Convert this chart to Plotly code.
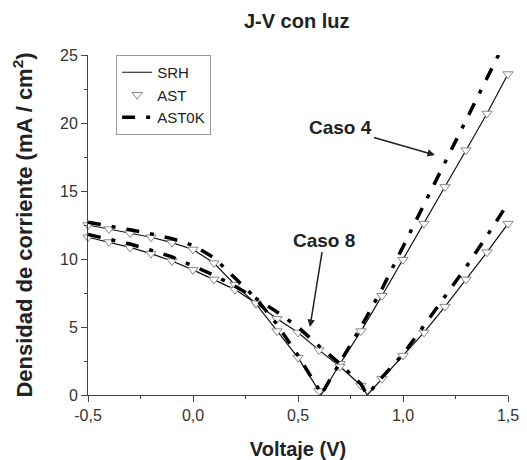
import plotly.graph_objects as go

# ---- data ----
# Curve with Voc ~ 0.61 V (Caso 4)
V_c4 = [-0.5, -0.4, -0.3, -0.2, -0.1, 0.0, 0.1, 0.2, 0.3, 0.4, 0.5,
        0.6, 0.61, 0.7, 0.8, 0.9, 1.0, 1.1, 1.2, 1.3, 1.4, 1.5]
J_c4_srh = [12.5, 12.2, 11.9, 11.6, 11.2, 10.7, 9.7, 8.1, 6.7, 4.7, 2.75,
            0.3, 0.0, 2.3, 4.7, 7.3, 9.95, 12.6, 15.3, 18.0, 20.7, 23.6]
J_c4_ast0k = [12.7, 12.45, 12.15, 11.85, 11.5, 11.0, 10.1, 8.6, 7.1, 5.2, 2.9,
              0.4, 0.0, 2.4, 5.0, 7.8, 10.9, 14.0, 17.1, 20.2, 23.3, 26.4]
V_c4_ast = [-0.5, -0.4, -0.3, -0.2, -0.1, 0.0, 0.1, 0.2, 0.3, 0.4, 0.5,
            0.6, 0.7, 0.8, 0.9, 1.0, 1.1, 1.2, 1.3, 1.4, 1.5]
J_c4_ast = [12.5, 12.2, 11.9, 11.6, 11.2, 10.7, 9.7, 8.1, 6.7, 4.7, 2.75,
            0.3, 2.3, 4.7, 7.3, 9.95, 12.6, 15.3, 18.0, 20.7, 23.6]

# Curve with Voc ~ 0.83 V (Caso 8)
V_c8 = [-0.5, -0.4, -0.3, -0.2, -0.1, 0.0, 0.1, 0.2, 0.3, 0.4, 0.5,
        0.6, 0.7, 0.8, 0.83, 0.9, 1.0, 1.1, 1.2, 1.3, 1.4, 1.5]
J_c8_srh = [11.6, 11.25, 10.85, 10.4, 9.85, 9.2, 8.5, 7.75, 6.75, 5.6, 4.6,
            3.3, 2.1, 0.7, 0.0, 1.2, 2.9, 4.6, 6.5, 8.5, 10.5, 12.6]
J_c8_ast0k = [11.8, 11.45, 11.1, 10.65, 10.15, 9.5, 8.8, 8.0, 7.1, 6.1, 5.0,
              3.6, 2.3, 0.8, 0.0, 1.3, 3.0, 5.1, 7.2, 9.4, 11.7, 14.1]
V_c8_ast = [-0.5, -0.4, -0.3, -0.2, -0.1, 0.0, 0.1, 0.2, 0.3, 0.4, 0.5,
            0.6, 0.7, 0.8, 0.9, 1.0, 1.1, 1.2, 1.3, 1.4, 1.5]
J_c8_ast = [11.6, 11.25, 10.85, 10.4, 9.85, 9.2, 8.5, 7.75, 6.75, 5.6, 4.6,
            3.3, 2.1, 0.7, 1.2, 2.9, 4.6, 6.5, 8.5, 10.5, 12.6]

x_tickvals = [-0.5, 0.0, 0.5, 1.0, 1.5]
x_ticktext = ["-0,5", "0,0", "0,5", "1,0", "1,5"]
y_tickvals = [0, 5, 10, 15, 20, 25]
y_ticktext = ["0", "5", "10", "15", "20", "25"]

FONT = "Liberation Sans, Arial, sans-serif"

fig = go.Figure()

# SRH solid lines
srh_line = dict(color="#111", width=1.2)
fig.add_trace(go.Scatter(x=V_c4, y=J_c4_srh, mode="lines", name="SRH",
                         line=srh_line))
fig.add_trace(go.Scatter(x=V_c8, y=J_c8_srh, mode="lines", name="SRH",
                         line=srh_line, showlegend=False))

# AST markers
mk = dict(symbol="triangle-down", size=9, color="white",
          line=dict(color="#888", width=1))
fig.add_trace(go.Scatter(x=V_c4_ast, y=J_c4_ast, mode="markers", name="AST",
                         marker=mk, cliponaxis=False))
fig.add_trace(go.Scatter(x=V_c8_ast, y=J_c8_ast, mode="markers", name="AST",
                         marker=mk, showlegend=False, cliponaxis=False))

# AST0K dashed lines
dl = dict(color="#000", width=3.5, dash="13px,11px,4px,11px")
fig.add_trace(go.Scatter(x=V_c4, y=J_c4_ast0k, mode="lines", name="AST0K",
                         line=dl))
fig.add_trace(go.Scatter(x=V_c8, y=J_c8_ast0k, mode="lines", name="AST0K",
                         line=dl, showlegend=False))

axis_common = dict(showline=True, linecolor="#444", linewidth=1,
                   showgrid=False, zeroline=False, ticks="outside",
                   ticklen=6, tickcolor="#444", automargin=False,
                   tickfont=dict(family=FONT, size=16, color="#333"))

fig.update_xaxes(range=[-0.5, 1.5], tickvals=x_tickvals, ticktext=x_ticktext,
                 minor=dict(dtick=0.25, ticks="outside", ticklen=3,
                            tickcolor="#444", showgrid=False),
                 title=dict(text="<b>Voltaje (V)</b>", standoff=20,
                            font=dict(family=FONT, size=20, color="#222")),
                 **axis_common)
fig.update_yaxes(range=[0, 25], tickvals=y_tickvals, ticktext=y_ticktext,
                 minor=dict(dtick=2.5, ticks="outside", ticklen=3,
                            tickcolor="#444", showgrid=False),
                 title=dict(text="<b>Densidad de corriente (mA / cm<sup>2</sup>)</b>",
                            standoff=21,
                            font=dict(family=FONT, size=22, color="#222")),
                 **axis_common)

ann_font = dict(family=FONT, size=19, color="#222")
fig.add_annotation(x=1.152, y=17.65, xref="x", yref="y", text="<b>Caso 4</b>",
                   showarrow=True, arrowhead=2, arrowsize=1, arrowwidth=1.5,
                   arrowcolor="#222", ax=-94, ay=-27, font=ann_font)
fig.add_annotation(x=0.557, y=5.0, xref="x", yref="y", text="<b>Caso 8</b>",
                   showarrow=True, arrowhead=2, arrowsize=1, arrowwidth=1.5,
                   arrowcolor="#222", ax=14, ay=-87, font=ann_font)

fig.update_layout(
    width=527, height=460,
    margin=dict(l=88, r=19, t=55, b=65, autoexpand=False),
    paper_bgcolor="white", plot_bgcolor="white",
    title=dict(text="<b>J-V con luz</b>", x=0.563, xanchor="center",
               y=1 - 21 / 460, yanchor="middle",
               font=dict(family=FONT, size=20, color="#222")),
    legend=dict(x=0.067, y=1.0, xanchor="left", yanchor="top",
                bordercolor="#999", borderwidth=1, bgcolor="white",
                font=dict(family=FONT, size=15, color="#222"),
                tracegroupgap=0),
    showlegend=True,
)

fig.write_html("out.html")
